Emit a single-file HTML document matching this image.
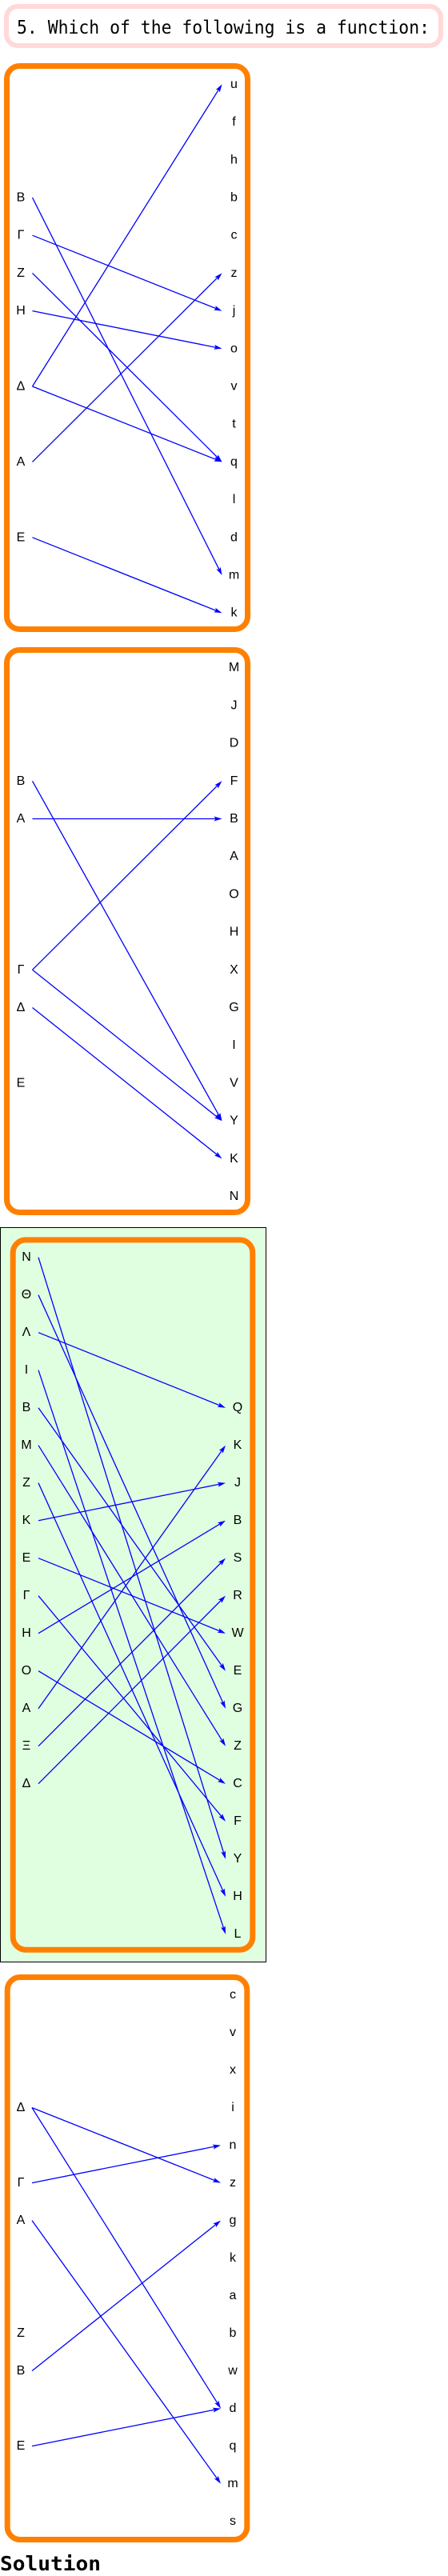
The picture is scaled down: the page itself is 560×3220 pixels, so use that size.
<!DOCTYPE html>
<html><head><meta charset="utf-8">
<style>
html,body{margin:0;padding:0;background:#fff;}
body{width:560px;height:3220px;position:relative;overflow:hidden;}
svg{position:absolute;left:0;top:0;}
</style></head><body>
<svg id="chart" width="560" height="3220">
<rect x="8" y="8" width="543" height="49" rx="14" ry="14" fill="#fff" stroke="#ffd9d9" stroke-width="6"/>
<text x="21" y="42" textLength="516" lengthAdjust="spacingAndGlyphs" font-family="'DejaVu Sans Mono','Liberation Mono',monospace" font-size="23" fill="#000">5. Which of the following is a function:</text>
<text x="0" y="3213" textLength="126" lengthAdjust="spacingAndGlyphs" font-family="'DejaVu Sans Mono','Liberation Mono',monospace" font-weight="bold" font-size="25" fill="#000">Solution</text>
</svg>
<script>
// Panel 1
const p1Right = ['u','f','h','b','c','z','j','o','v','t','q','l','d','m','k'];
const p1Left = ['B','Γ','Z','H','Δ','A','E'];
const p1LeftSlot = [3,4,5,6,8,10,12];
const p1From = ['B','Γ','Z','H','Δ','Δ','A','E'];
const p1To = ['m','j','q','o','u','q','z','k'];
// Panel 2
const p2Right = ['M','J','D','F','B','A','O','H','X','G','I','V','Y','K','N'];
const p2Left = ['B','A','Γ','Δ','E'];
const p2LeftSlot = [3,4,8,9,11];
const p2From = ['B','A','Γ','Γ','Δ'];
const p2To = ['Y','B','F','Y','K'];
// Panel 3
const p3Right = ['Q','K','J','B','S','R','W','E','G','Z','C','F','Y','H','L'];
const p3RightStart = 4;
const p3Left = ['N','Θ','Λ','I','B','M','Z','K','E','Γ','H','O','A','Ξ','Δ'];
const p3LeftSlot = [0,1,2,3,4,5,6,7,8,9,10,11,12,13,14];
const p3From = ['N','Θ','Λ','I','B','M','Z','K','E','Γ','H','O','A','Ξ','Δ'];
const p3To = ['Y','G','Q','L','E','Z','H','J','W','F','B','C','K','S','R'];
// Panel 4
const p4Right = ['c','v','x','i','n','z','g','k','a','b','w','d','q','m','s'];
const p4Left = ['Δ','Γ','A','Z','B','E'];
const p4LeftSlot = [3,5,6,9,10,12];
const p4From = ['Γ','Δ','Δ','A','B','E'];
const p4To = ['n','z','d','m','g','d'];

const NS='http://www.w3.org/2000/svg';
const svg=document.getElementById('chart');
function mk(tag,attrs,parent){const e=document.createElementNS(NS,tag);for(const k in attrs)e.setAttribute(k,attrs[k]);(parent||svg).appendChild(e);return e;}

const bg=mk('rect',{x:0.5,y:1534.5,width:332,height:918,fill:'#e0ffe0',stroke:'#000','stroke-width':1});



const panels=[
 {n:1,box:[5,79,308,711],first:105.4,step:47.2,lx:26,sx:40.5,rx:292.5,ex:277.5,right:p1Right,rs:0,left:p1Left,ls:p1LeftSlot,from:p1From,to:p1To},
 {n:2,box:[5,809,308,710],first:834.7,step:47.2,lx:26,sx:40.5,rx:292.5,ex:277.5,right:p2Right,rs:0,left:p2Left,ls:p2LeftSlot,from:p2From,to:p2To},
 {n:3,box:[12.7,1546.4,306.6,894.3],first:1571.7,step:47,lx:33,sx:48,rx:297,ex:282,right:p3Right,rs:p3RightStart,left:p3Left,ls:p3LeftSlot,from:p3From,to:p3To},
 {n:4,box:[5.7,2468,306.6,710],first:2493.6,step:47,lx:26,sx:40,rx:291,ex:276,right:p4Right,rs:0,left:p4Left,ls:p4LeftSlot,from:p4From,to:p4To}
];

panels.forEach(p=>{
 const g=mk('g',{});
 
 
 const b=p.box;
 const r=mk('rect',{x:b[0]+3.5,y:b[1]+3.5,width:b[2]-7,height:b[3]-7,rx:16,ry:16,fill:'none',stroke:'#ff8000','stroke-width':7},g);
 
 
 const ySlot=i=>p.first+i*p.step;
 const leftY={},rightY={};
 p.left.forEach((l,i)=>{
  const y=ySlot(p.ls[i]);leftY[l]=y;
  const t=mk('text',{x:p.lx,y:y,'text-anchor':'middle','dominant-baseline':'central','font-family':'"Liberation Sans",sans-serif','font-size':16,fill:'#000'},g);
  t.textContent=l;
  
  
 });
 p.right.forEach((l,i)=>{
  const y=ySlot(p.rs+i);rightY[l]=y;
  const t=mk('text',{x:p.rx,y:y,'text-anchor':'middle','dominant-baseline':'central','font-family':'"Liberation Sans",sans-serif','font-size':16,fill:'#000'},g);
  t.textContent=l;
  
  
 });
 p.from.forEach((f,i)=>{
  const x1=p.sx,y1=leftY[f],x2=p.ex,y2=rightY[p.to[i]];
  const dx=x2-x1,dy=y2-y1,L=Math.hypot(dx,dy),ux=dx/L,uy=dy/L;
  const hl=10,hw=3;
  const bx=x2-ux*hl,by=y2-uy*hl;
  const ln=mk('line',{x1:x1,y1:y1,x2:bx+ux*2,y2:by+uy*2,stroke:'#0000ff','stroke-width':1.3},g);
  
  
  const hd=mk('polygon',{points:`${x2},${y2} ${bx-uy*hw},${by+ux*hw} ${bx+ux*2},${by+uy*2} ${bx+uy*hw},${by-ux*hw}`,fill:'#0000ff'},g);
  
  
 });
});
</script>
</body></html>
